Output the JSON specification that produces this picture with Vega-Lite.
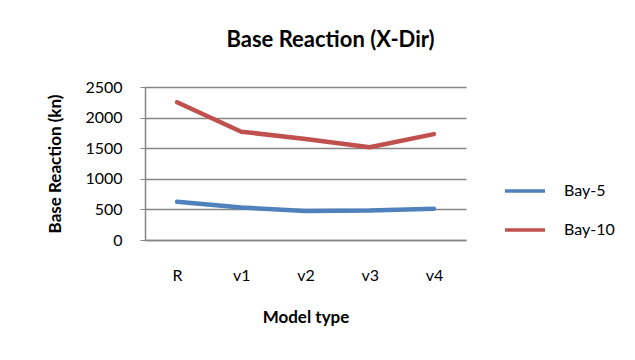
{
  "$schema": "https://vega.github.io/schema/vega-lite/v6.json",
  "autosize": {"type": "none"},
  "width": 321,
  "height": 153,
  "padding": {"left": 145, "top": 87, "right": 169, "bottom": 120},
  "background": "white",
  "title": {
    "text": "Base Reaction (X-Dir)",
    "font": "Lato",
    "fontSize": 22,
    "fontWeight": "bold",
    "color": "#000000",
    "anchor": "middle",
    "dx": 25,
    "offset": 27
  },
  "data": {
    "values": [
      {"model": "R", "series": "Bay-5", "value": 625},
      {"model": "v1", "series": "Bay-5", "value": 530},
      {"model": "v2", "series": "Bay-5", "value": 475},
      {"model": "v3", "series": "Bay-5", "value": 480},
      {"model": "v4", "series": "Bay-5", "value": 510},
      {"model": "R", "series": "Bay-10", "value": 2250},
      {"model": "v1", "series": "Bay-10", "value": 1770},
      {"model": "v2", "series": "Bay-10", "value": 1650},
      {"model": "v3", "series": "Bay-10", "value": 1515},
      {"model": "v4", "series": "Bay-10", "value": 1730}
    ]
  },
  "mark": {"type": "line", "strokeWidth": 4.5, "strokeCap": "round", "strokeJoin": "round"},
  "encoding": {
    "x": {
      "field": "model",
      "type": "ordinal",
      "sort": ["R", "v1", "v2", "v3", "v4"],
      "scale": {"type": "point", "padding": 0.5},
      "axis": {
        "title": "Model type",
        "labelAngle": 0,
        "ticks": false,
        "labelPadding": 27,
        "titlePadding": 26,
        "domainColor": "#868686",
        "domainWidth": 1.5
      }
    },
    "y": {
      "field": "value",
      "type": "quantitative",
      "scale": {"domain": [0, 2500], "nice": false},
      "axis": {
        "title": "Base Reaction (kn)",
        "values": [0, 500, 1000, 1500, 2000, 2500],
        "format": "d",
        "grid": true,
        "gridColor": "#868686",
        "gridWidth": 1.5,
        "domainColor": "#868686",
        "domainWidth": 1.5,
        "tickColor": "#868686",
        "tickSize": 5,
        "labelPadding": 18,
        "titlePadding": 20
      }
    },
    "color": {
      "field": "series",
      "type": "nominal",
      "scale": {"domain": ["Bay-5", "Bay-10"], "range": ["#4F81BD", "#C0504D"]},
      "legend": {
        "title": null,
        "orient": "none",
        "legendX": 358,
        "legendY": 82,
        "symbolType": "stroke",
        "symbolSize": 1600,
        "symbolStrokeWidth": 3.5,
        "rowPadding": 9,
        "labelOffset": 17,
        "labelFontSize": 16,
        "labelFont": "Lato",
        "labelColor": "#000000"
      }
    }
  },
  "config": {
    "view": {"stroke": null},
    "axis": {
      "labelFont": "Lato",
      "labelFontSize": 16,
      "labelColor": "#000000",
      "titleFont": "Lato",
      "titleFontSize": 17,
      "titleFontWeight": "bold",
      "titleColor": "#000000"
    }
  }
}
